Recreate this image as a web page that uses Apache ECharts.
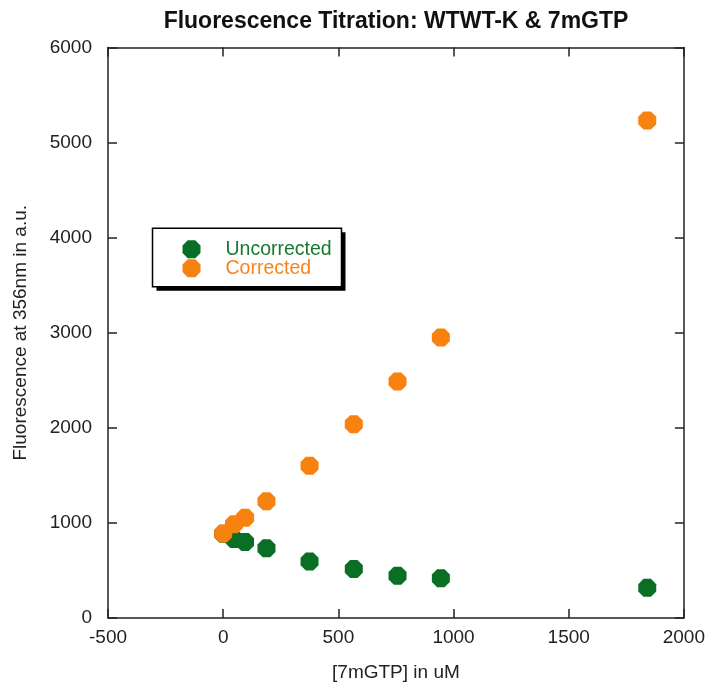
<!DOCTYPE html>
<html><head><meta charset="utf-8">
<script src="https://cdn.jsdelivr.net/npm/echarts@6/dist/echarts.min.js"></script>
<style>html,body{margin:0;padding:0;background:#fff}#c{width:708px;height:687px}</style>
</head><body><div id="c"></div>
<script>
const concentration = [0, 47, 95, 188, 375, 567, 757, 945, 1841];
const uncorrected = [885, 830, 800, 734, 595, 515, 445, 417, 317];
const corrected = [889, 985, 1054, 1228, 1601, 2038, 2487, 2949, 5233];
const seriesNames = ['Uncorrected', 'Corrected'];
const xTicks = [-500, 0, 500, 1000, 1500, 2000];
const yTicks = [0, 1000, 2000, 3000, 4000, 5000, 6000];

const GREEN = '#0a6e24', ORANGE = '#f7820f';
const OCT = 'path://M29.3,0 L70.7,0 L100,29.3 L100,70.7 L70.7,100 L29.3,100 L0,70.7 L0,29.3 Z';
const FONT = 'Liberation Sans, Arial, sans-serif';
const pairs = (xs, ys) => xs.map((x, i) => [x, ys[i]]);

const axisLine = {show: true, onZero: false, lineStyle: {color: '#222', width: 1.5}};
const tick = {show: true, inside: true, length: 9, lineStyle: {color: '#222', width: 1.5}};
const xBase = {type: 'value', min: xTicks[0], max: xTicks[xTicks.length-1], interval: 500,
  splitLine: {show: false}, axisLine: axisLine, axisTick: tick};
const yBase = {type: 'value', min: yTicks[0], max: yTicks[yTicks.length-1], interval: 1000,
  splitLine: {show: false}, axisLine: axisLine, axisTick: tick};
const lbl = {fontFamily: FONT, fontSize: 19, color: '#222', formatter: v => String(v)};

const chart = echarts.init(document.getElementById('c'), null, {renderer: 'canvas'});
chart.setOption({
  animation: false,
  backgroundColor: '#fff',
  title: {text: 'Fluorescence Titration: WTWT-K & 7mGTP', left: 391, textAlign: 'center', top: 5,
    textStyle: {fontFamily: FONT, fontWeight: 'bold', fontSize: 23, color: '#111'}},
  grid: {left: 108, top: 47.5, width: 576, height: 575.2, containLabel: false},
  graphic: [
    {type: 'rect', z: 1, shape: {x: 156.5, y: 232.3, width: 189, height: 58.4}, style: {fill: '#000'}},
    {type: 'rect', z: 2, shape: {x: 152.5, y: 228.3, width: 189, height: 58.4},
      style: {fill: '#fff', stroke: '#000', lineWidth: 1.5}}
  ],
  legend: {
    z: 10,
    orient: 'vertical', left: 152.5, top: 228.3,
    data: [
      {name: seriesNames[0], textStyle: {color: '#147a2e'}},
      {name: seriesNames[1], textStyle: {color: '#f7841a'}}
    ],
    itemWidth: 18, itemHeight: 18, itemGap: -1,
    padding: [11, 10, 9, 30],
    textStyle: {fontFamily: FONT, fontSize: 19.5, lineHeight: 18, padding: [0, 0, 0, 20]}
  },
  xAxis: [
    Object.assign({}, xBase, {position: 'bottom', name: '[7mGTP] in uM', nameLocation: 'middle', nameGap: 45,
      nameTextStyle: {fontFamily: FONT, fontSize: 19, color: '#222'},
      axisLabel: Object.assign({margin: 10}, lbl)}),
    Object.assign({}, xBase, {position: 'top', axisLabel: {show: false}})
  ],
  yAxis: [
    Object.assign({}, yBase, {position: 'left', name: 'Fluorescence at 356nm in a.u.', nameLocation: 'middle', nameGap: 78,
      nameTextStyle: {fontFamily: FONT, fontSize: 19, color: '#222'},
      axisLabel: Object.assign({margin: 16}, lbl)}),
    Object.assign({}, yBase, {position: 'right', axisLabel: {show: false}})
  ],
  series: [
    {name: seriesNames[0], type: 'scatter', symbol: OCT, symbolSize: 18,
      itemStyle: {color: GREEN, opacity: 1}, data: pairs(concentration, uncorrected),
      xAxisIndex: 0, yAxisIndex: 0},
    {name: seriesNames[1], type: 'scatter', symbol: OCT, symbolSize: 18,
      itemStyle: {color: ORANGE, opacity: 1}, data: pairs(concentration, corrected),
      xAxisIndex: 0, yAxisIndex: 0}
  ]
});
</script></body></html>
